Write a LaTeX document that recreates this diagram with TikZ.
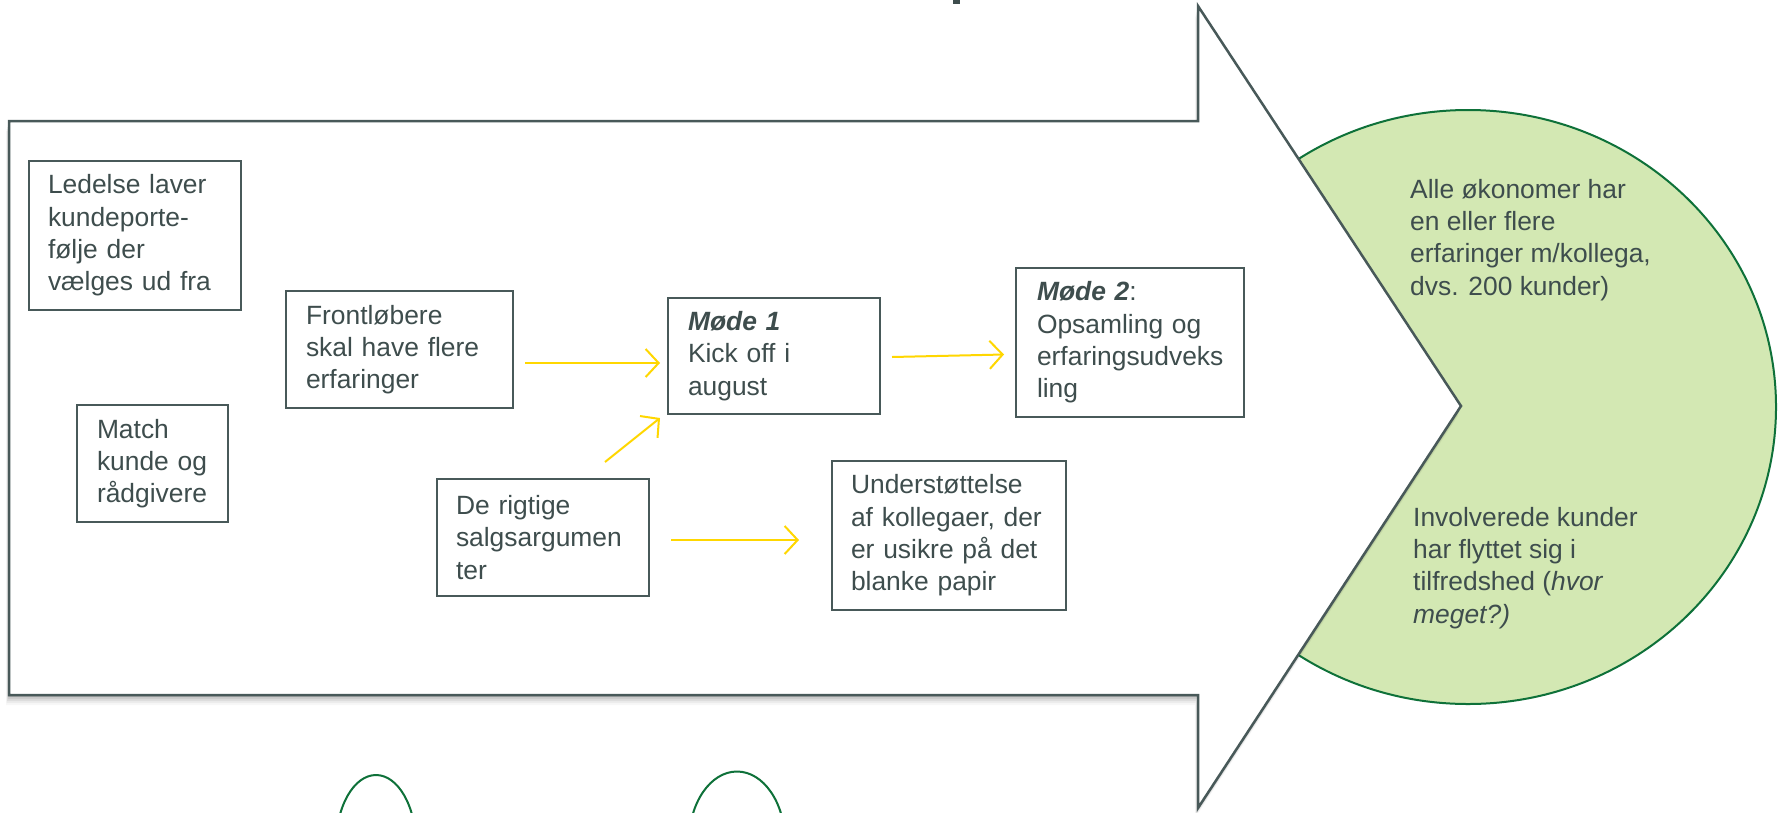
\documentclass[tikz,border=0pt]{standalone}
\usepackage{fontspec}
\setmainfont{Liberation Sans}
\usetikzlibrary{arrows.meta}
\definecolor{txt}{HTML}{3E4D4D}
\definecolor{lin}{HTML}{485959}
\definecolor{yel}{HTML}{FFD700}
\definecolor{grnline}{HTML}{0E7139}
\definecolor{grnfill}{HTML}{D3E8B3}
\newcommand\myarrowpath{(9,121) -- (1198,121) -- (1198,6) -- (1461,406) -- (1198,808) -- (1198,695) -- (9,695) -- cycle}
\begin{document}
\begin{tikzpicture}[x=1pt,y=-1pt,
  box/.style={draw=lin, line width=2pt, fill=white, text=txt, align=left,
    inner xsep=19pt, inner ysep=0pt, font=\fontsize{26.4}{32.3}\selectfont},
  lbl/.style={text=txt, align=left, inner sep=0pt, anchor=west,
    font=\fontsize{26.4}{32.3}\selectfont},
  yarr/.style={draw=yel, line width=2pt, -{Straight Barb[length=13pt,width=28pt,line width=2pt]}},
  arch/.style={draw=grnline, line width=2pt, fill=white}]
\useasboundingbox (0,0) rectangle (1779,812);
\fill[white] (0,0) rectangle (1779,812);
% title fragment
\fill[txt] (953,0) rectangle (960,4);
% green result shape
\draw[grnline, line width=2pt, fill=grnfill] (1468,407) ellipse [x radius=308pt, y radius=297pt];
% arrow shadow
\foreach \d/\o in {2/0.10,4/0.08,6/0.06,8/0.045,10/0.03}{
  \fill[black, opacity=\o, shift={(-0.3*\d,\d)}] \myarrowpath;
}
% big arrow
\draw[lin, line width=2.5pt, fill=white, line join=miter] \myarrowpath;
% bottom arches
\begin{scope}
\clip (0,0) rectangle (1779,812);
\draw[arch] (376,845) ellipse [x radius=40pt, y radius=70pt];
\draw[arch] (737,841.5) ellipse [x radius=48pt, y radius=70pt];
\end{scope}
% boxes
\node[box, minimum width=212pt, minimum height=149pt, text width=174pt] (led) at (135,235.5)
  {Ledelse laver\\kundeporte-\\følje der\\vælges ud fra};
\node[box, minimum width=151pt, minimum height=117pt, text width=111pt, inner xsep=20pt] (match) at (152.5,463.5)
  {Match\\kunde og\\rådgivere};
\node[box, minimum width=227pt, minimum height=117pt, text width=187pt, inner xsep=20pt] (front) at (399.5,349.5)
  {Frontløbere\\skal have flere\\erfaringer};
\node[box, minimum width=212pt, minimum height=117pt, text width=174pt] (rig) at (543,537.5)
  {De rigtige\\salgsargumen\\ter};
\node[box, minimum width=212pt, minimum height=116pt, text width=172pt, inner xsep=20pt] (m1) at (774,356)
  {\textbf{\textit{Møde 1}}\\Kick off i\\august};
\node[box, minimum width=228pt, minimum height=149pt, text width=186pt, inner xsep=21pt] (m2) at (1130,342.5)
  {\textbf{\textit{Møde 2}}:\\Opsamling og\\erfaringsudveks\\ling};
\node[box, minimum width=234pt, minimum height=149pt, text width=196pt] (und) at (949,535.5)
  {Understøttelse\\af kollegaer, der\\er usikre på det\\blanke papir};
% results text
\node[lbl] (res1) at (1410,240) {Alle økonomer har\\en eller flere\\erfaringer m/kollega,\\dvs. 200 kunder)};
\node[lbl] (res2) at (1413,568) {Involverede kunder\\har flyttet sig i\\tilfredshed (\textit{hvor}\\\textit{meget?)}};
% yellow arrows
\draw[yarr] ([shift={(11,13.5)}]front.east) -- ([shift={(-7,7)}]m1.west);
\draw[yarr] ([shift={(-45,-16)}]rig.north east) -- ([shift={(-7,3)}]m1.south west);
\draw[yarr] ([shift={(11,1)}]m1.east) -- ([shift={(-11,12)}]m2.west);
\draw[yarr] ([shift={(21,2.5)}]rig.east) -- ([shift={(-32,4.5)}]und.west);
\end{tikzpicture}
\end{document}
